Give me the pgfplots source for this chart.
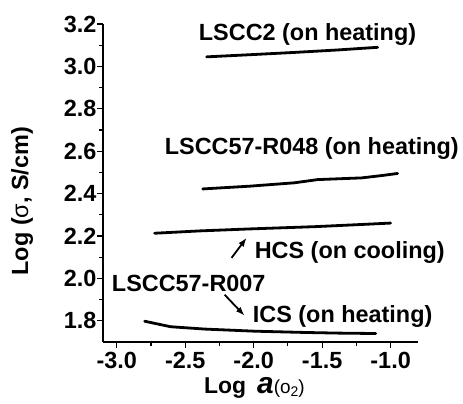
\documentclass[border=0pt]{standalone}
\usepackage{fontspec}
\setmainfont{Liberation Sans}
\usepackage{pgfplots}
\pgfplotsset{compat=1.18}
\usetikzlibrary{arrows.meta}
\begin{document}
\begin{tikzpicture}
\useasboundingbox (0,0) rectangle (463bp,404bp);
\begin{axis}[
  at={(103bp,62bp)}, anchor=south west,
  scale only axis, width=315bp, height=318bp,
  xmin=-3.1, xmax=-0.8, ymin=1.7, ymax=3.2,
  axis lines=left, axis line style={-, line width=1.3bp},
  clip=false,
  tick align=outside,
  major tick length=6bp, minor tick length=3.5bp,
  every tick/.style={black, line width=1.2bp},
  xtick={-3,-2.5,-2,-1.5,-1},
  xticklabels={-3.0,-2.5,-2.0,-1.5,-1.0},
  minor xtick={-2.75,-2.25,-1.75,-1.25},
  ytick={1.8,2.0,2.2,2.4,2.6,2.8,3.0,3.2},
  yticklabels={1.8,2.0,2.2,2.4,2.6,2.8,3.0,3.2},
  minor ytick={1.9,2.1,2.3,2.5,2.7,2.9,3.1},
  tick label style={font=\fontsize{23.5}{25}\selectfont\bfseries},
  yticklabel style={inner sep=0.5bp},
  xticklabel style={inner sep=1.5bp, yshift=-2.5bp},
  ylabel={Log ({\fontseries{m}\selectfont σ}, S/cm)},
  ylabel style={at={(axis description cs:-0.238,0.443)}, anchor=base, font=\fontsize{23.5}{25}\selectfont\bfseries},
  xlabel={Log\hspace{11bp}{\fontsize{30}{30}\selectfont\bfseries\itshape a}{\fontseries{m}\fontsize{19}{19}\selectfont(o{\fontsize{14}{14}\selectfont\raisebox{-3bp}{2}})}},
  xlabel style={at={(axis description cs:0.31,-0.163)}, anchor=base west, font=\fontsize{23}{25}\selectfont\bfseries},
]
\addplot[black, line width=2.8bp, line join=round, line cap=round] coordinates {
(-2.343,3.045) (-2.0,3.056) (-1.7,3.066) (-1.4,3.077) (-1.095,3.090)};
\addplot[black, line width=2.8bp, line join=round, line cap=round] coordinates {
(-2.372,2.422) (-2.029,2.435) (-1.701,2.451) (-1.533,2.466) (-1.336,2.471) (-1.212,2.474) (-1.066,2.485) (-0.949,2.495)};
\addplot[black, line width=2.8bp, line join=round, line cap=round] coordinates {
(-2.723,2.213) (-2.394,2.224) (-2.044,2.233) (-1.555,2.244) (-1.190,2.255) (-1.0,2.261)};
\addplot[black, line width=2.8bp, line join=round, line cap=round] coordinates {
(-2.796,1.798) (-2.606,1.772) (-2.358,1.761) (-1.993,1.751) (-1.628,1.745) (-1.387,1.742) (-1.109,1.740)};
\begin{scope}[every node/.style={anchor=base west, inner sep=0pt, font=\fontsize{23.5}{26}\selectfont\bfseries}]
\node at (axis cs:-2.401,3.121) {LSCC2 (on heating)};
\node at (axis cs:-2.650,2.583) {LSCC57-R048 (on heating)};
\node at (axis cs:-1.993,2.092) {HCS (on cooling)};
\node at (axis cs:-3.036,1.937) {LSCC57-R007};
\node at (axis cs:-2.007,1.791) {ICS (on heating)};
\end{scope}
\draw[line width=1.8bp, -{Latex[length=9bp,width=6.5bp]}] (axis cs:-2.161,2.097) -- (axis cs:-2.051,2.192);
\draw[line width=1.8bp, -{Latex[length=9bp,width=6.5bp]}] (axis cs:-2.212,1.923) -- (axis cs:-2.066,1.824);
\end{axis}
\end{tikzpicture}
\end{document}
